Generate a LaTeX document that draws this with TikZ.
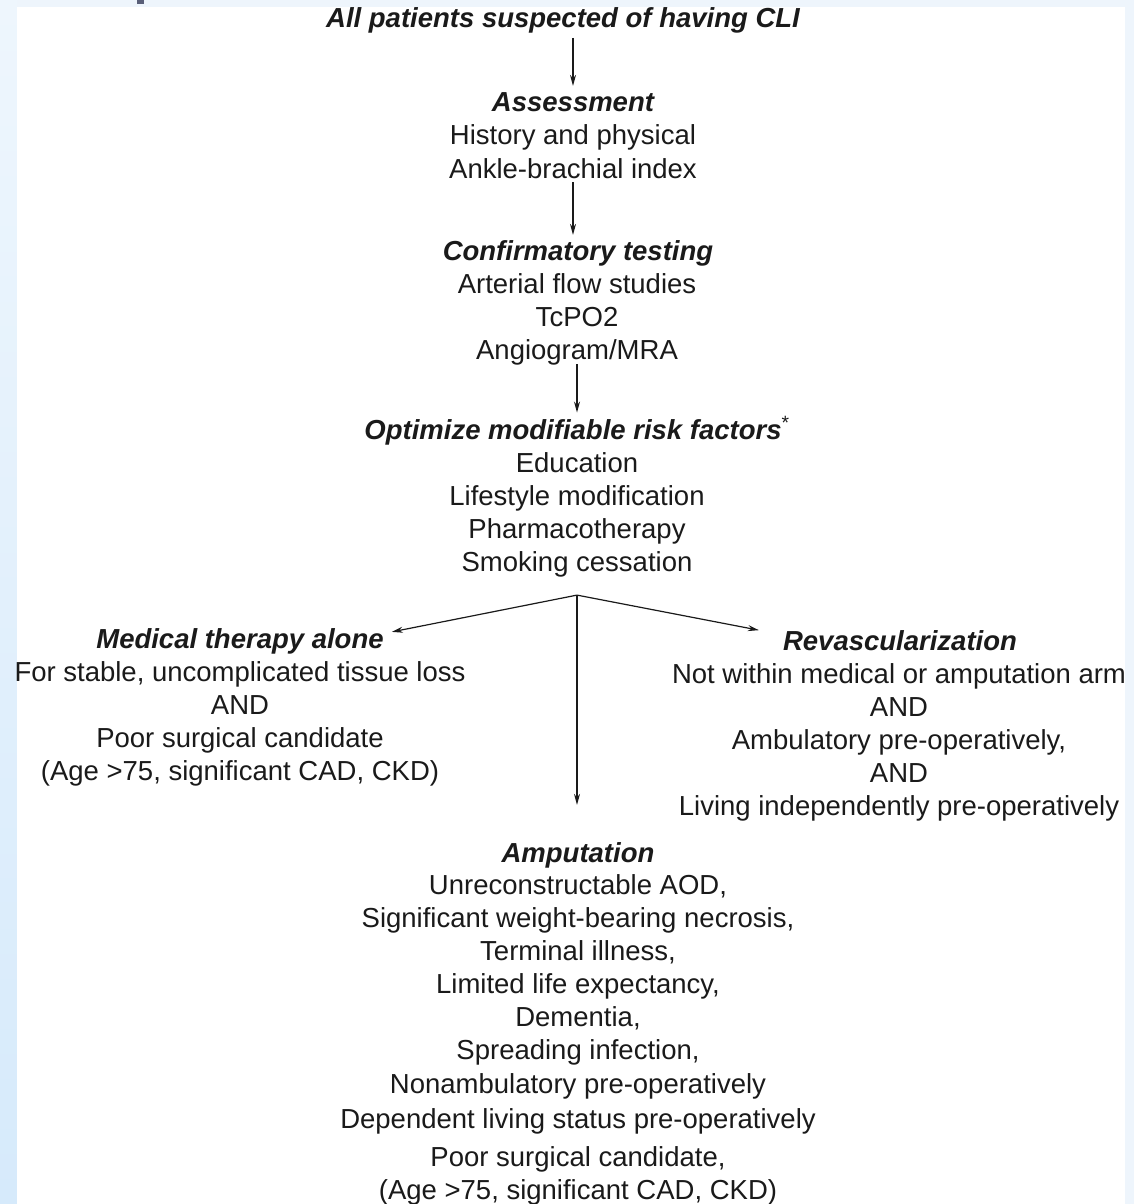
\documentclass[tikz,border=0pt]{standalone}
\usepackage{fontspec}
\setmainfont{Liberation Sans}
\usetikzlibrary{arrows.meta}
\definecolor{bgblue}{HTML}{EEF5FC}
\definecolor{striptop}{HTML}{EEF6FD}
\definecolor{stripbot}{HTML}{D6EAFB}
\definecolor{markcol}{HTML}{5A5F78}
\definecolor{ink}{HTML}{1A1A1A}
\begin{document}
\begin{tikzpicture}[x=1pt,y=-1pt,
  ttl/.style={inner sep=0pt, anchor=base, text=ink,
    font=\fontsize{27.5}{33}\selectfont\bfseries\itshape},
  bdy/.style={inner sep=0pt, anchor=base, text=ink,
    font=\fontsize{27.5}{33}\selectfont},
  conn/.style={draw=ink, line width=1.2pt, -{Stealth[length=11pt,width=6pt]}}]
% background
\useasboundingbox (0,0) rectangle (1134,1204);
\fill[bgblue] (0,0) rectangle (1134,1204);
\shade[top color=striptop, bottom color=stripbot] (0,0) rectangle (17,1204);
\fill[white] (17,7) rectangle (1125,1204);
\fill[markcol] (137,0) rectangle (144,4);

\newcommand{\lines}[1]{\begin{tabular}[t]{@{}c@{}}#1\end{tabular}}

% nodes
\node[ttl] (top) at (563,28) {All patients suspected of having CLI};
\node[ttl] (assesst) at (573,112) {Assessment};
\node[bdy] (assessb) at (573,145) {\lines{History and physical\\Ankle-brachial index}};
\node[ttl] (conft) at (578,260) {Confirmatory testing};
\node[bdy] (confb) at (577,293) {\lines{Arterial flow studies\\TcPO2\\Angiogram/MRA}};
\node[ttl] (optt) at (577,439) {Optimize modifiable risk factors{\normalfont\textsuperscript{*}}};
\node[bdy] (optb) at (577,472) {\lines{Education\\Lifestyle modification\\Pharmacotherapy\\Smoking cessation}};
\node[ttl] (medt) at (240,648) {Medical therapy alone};
\node[bdy] (medb) at (240,681) {\lines{For stable, uncomplicated tissue loss\\AND\\Poor surgical candidate\\(Age >75, significant CAD, CKD)}};
\node[ttl] (revt) at (900,650) {Revascularization};
\node[bdy] (revb) at (899,683) {\lines{Not within medical or amputation arm\\AND\\Ambulatory pre-operatively,\\AND\\Living independently pre-operatively}};
\node[ttl] (ampt) at (578,862) {Amputation};
\node[bdy] (ampb) at (578,894) {\lines{Unreconstructable AOD,\\Significant weight-bearing necrosis,\\Terminal illness,\\Limited life expectancy,\\Dementia,\\Spreading infection,\\[1pt]Nonambulatory pre-operatively\\[2pt]Dependent living status pre-operatively\\[5pt]Poor surgical candidate,\\(Age >75, significant CAD, CKD)}};

% connectors
\draw[conn, shorten <=4pt, shorten >=7pt] (assesst.north |- top.south) -- (assesst.north);
\draw[conn, shorten <=-6pt, shorten >=5pt] (assessb.south) -- (conft.north -| assessb.south);
\draw[conn, shorten <=-5pt, shorten >=4pt] (confb.south) -- (optt.north -| confb.south);
\coordinate (br) at ([yshift=-14pt]optb.south);
\draw[conn] (br) -- ([xshift=8pt,yshift=9pt]medt.east);
\draw[conn] (br) -- ([xshift=-24pt,yshift=10pt]revt.west);
\draw[conn, shorten >=37pt] (br) -- (ampt.north -| br);
\end{tikzpicture}
\end{document}
